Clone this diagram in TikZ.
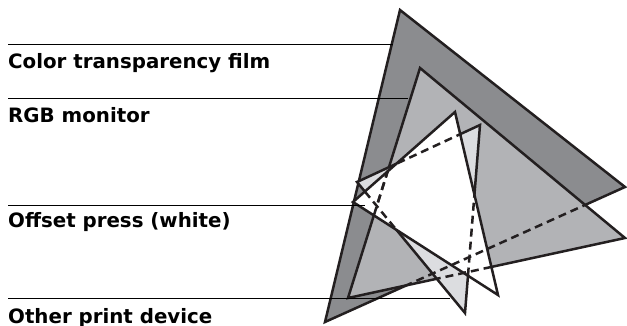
\documentclass[tikz,border=0pt]{standalone}
\usepackage{fontspec}
\setsansfont{DejaVu Sans}
\usepackage{tikz}
\definecolor{filmgray}{RGB}{139,140,143}
\definecolor{monitorgray}{RGB}{178,179,182}
\definecolor{printgray}{RGB}{220,221,224}
\definecolor{edgeblack}{RGB}{35,31,32}

\begin{document}
\begin{tikzpicture}[x=1pt, y=-1pt,
  gamut/.style={draw=edgeblack, line width=2.5pt, line join=miter},
  hiddenedge/.style={edgeblack, line width=2.5pt, dash pattern=on 8pt off 5pt},
  leader/.style={black, line width=0.9pt},
  gamutlabel/.style={anchor=base west, inner sep=0pt, font=\sffamily\bfseries\fontsize{19.8}{22}\selectfont}]
  \useasboundingbox (0,0) rectangle (627,326);
  % corners of the four gamuts
  \coordinate (f1) at (400,10);  \coordinate (f2) at (625,187); \coordinate (f3) at (325,322);
  \coordinate (m1) at (420,68);  \coordinate (m2) at (625,238); \coordinate (m3) at (348,298);
  \coordinate (p1) at (480,125); \coordinate (p2) at (465,313); \coordinate (p3) at (357,182);
  \coordinate (w1) at (455,112); \coordinate (w2) at (498,295); \coordinate (w3) at (353,202);
  \draw[gamut, fill=filmgray] (f1) -- (f2) -- (f3) -- cycle;
  \draw[gamut, fill=monitorgray] (m1) -- (m2) -- (m3) -- cycle;
  \draw[gamut, fill=printgray] (p1) -- (p2) -- (p3) -- cycle;
  \draw[gamut, fill=white] (w1) -- (w2) -- (w3) -- cycle;
  % edges lying under another gamut
  \begin{scope}
    \clip (m1) -- (m2) -- (m3) -- cycle;
    \draw[hiddenedge] (f1) -- (f2) -- (f3) -- cycle;
  \end{scope}
  \foreach \g in {p,w} {
    \begin{scope}
      \clip (\g1) -- (\g2) -- (\g3) -- cycle;
      \draw[hiddenedge] (m1) -- (m2) -- (m3) -- cycle;
    \end{scope}
  }
  \begin{scope}
    \clip (w1) -- (w2) -- (w3) -- cycle;
    \draw[hiddenedge] (p1) -- (p2) -- (p3) -- cycle;
  \end{scope}
  % labels
  \node[gamutlabel] (film) at (8,68.5) {Color transparency film};
  \node[gamutlabel] (monitor) at (8,123) {RGB monitor};
  \node[gamutlabel] (press) at (8,228) {Offset press (white)};
  \node[gamutlabel] (other) at (8,323) {Other print device};
  \coordinate (filmtip) at (393,44);
  \coordinate (monitortip) at (408,98);
  \coordinate (presstip) at (365,205);
  \coordinate (othertip) at (450,298);
  \draw[leader] (film.west |- filmtip) -- (filmtip);
  \draw[leader] (monitor.west |- monitortip) -- (monitortip);
  \draw[leader] (press.west |- presstip) -- (presstip);
  \draw[leader] (other.west |- othertip) -- (othertip);
\end{tikzpicture}
\end{document}
